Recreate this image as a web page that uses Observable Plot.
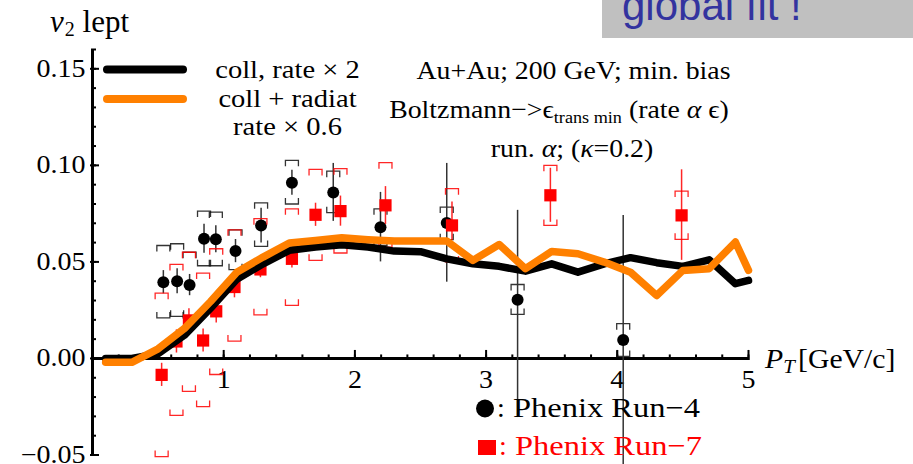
<!DOCTYPE html>
<html><head><meta charset="utf-8">
<script src="https://cdn.jsdelivr.net/npm/d3@7"></script>
<script src="https://cdn.jsdelivr.net/npm/@observablehq/plot@0.6"></script>
<style>
html,body{margin:0;padding:0;background:#fff;}
#chart{position:relative;width:913px;height:464px;overflow:hidden;}
</style></head><body><div id="chart"></div>
<script>
// ---------- data ----------
// PHENIX Run-4 (black circles)
const pt4     = [0.54, 0.645, 0.74, 0.85, 0.94, 1.09, 1.285, 1.52, 1.835, 2.195, 2.70, 3.24, 4.045];
const v4      = [0.0395, 0.040, 0.038, 0.062, 0.0617, 0.0556, 0.0688, 0.091, 0.086, 0.068, 0.0701, 0.0304, 0.0095];
const statHi4 = [0.0455, 0.0465, 0.0435, 0.0695, 0.0687, 0.0616, 0.0778, 0.0975, 0.101, 0.086, 0.101, 0.0767, 0.074];
const statLo4 = [0.0335, 0.0335, 0.0325, 0.0545, 0.0547, 0.0496, 0.0598, 0.0845, 0.071, 0.050, 0.0395, -0.0306, -0.056];
const sysHi4  = [0.0585, 0.0594, 0.055, 0.0763, 0.0758, 0.0666, 0.0806, 0.1026, 0.097, 0.0775, 0.0784, 0.0383, 0.018];
const sysLo4  = [0.021, 0.0218, 0.021, 0.048, 0.048, 0.046, 0.058, 0.080, 0.0755, 0.0585, 0.0615, 0.0228, 0.001];

// PHENIX Run-7 (red squares)
const pt7     = [0.527, 0.64, 0.735, 0.843, 0.943, 1.082, 1.28, 1.52, 1.70, 1.89, 2.233, 2.74, 3.49, 4.49];
const v7      = [-0.0085, 0.0088, 0.0197, 0.0093, 0.0244, 0.037, 0.0461, 0.0516, 0.0744, 0.0763, 0.0793, 0.0689, 0.0845, 0.0741];
const statHi7 = [-0.0025, 0.0148, 0.0257, 0.0153, 0.0304, 0.0426, 0.0504, 0.0563, 0.0804, 0.0841, 0.089, 0.081, 0.0985, 0.0977];
const statLo7 = [-0.0145, 0.0028, 0.0137, 0.0033, 0.0184, 0.0314, 0.0418, 0.0469, 0.0684, 0.0685, 0.0694, 0.061, 0.0705, 0.0508];
const sysHi7  = [0.0338, 0.0487, 0.055, 0.0442, 0.0568, 0.0666, 0.0724, 0.0775, 0.0979, 0.0983, 0.1014, 0.0879, 0.100, 0.0867];
const sysLo7  = [-0.0508, -0.0295, -0.017, -0.0249, -0.0083, 0.009, 0.0226, 0.0275, 0.0508, 0.0546, 0.0577, 0.050, 0.0689, 0.0617];

// model curves
const ptModel  = [0.1, 0.3, 0.5, 0.7, 0.9, 1.1, 1.3, 1.5, 1.7, 1.9, 2.1, 2.3, 2.5, 2.7, 2.9, 3.1, 3.3, 3.5, 3.7, 3.9, 4.1, 4.3, 4.5, 4.7, 4.9, 5.0];
const collRate2 = [0, 0, 0.0025, 0.012, 0.026, 0.041, 0.049, 0.056, 0.0577, 0.0589, 0.0577, 0.0556, 0.0553, 0.0516, 0.049, 0.0477, 0.0452, 0.049, 0.0447, 0.049, 0.0522, 0.0496, 0.0477, 0.0511, 0.0387, 0.0404];
const collRadiat = [-0.002, -0.002, 0.005, 0.0155, 0.0295, 0.0447, 0.0525, 0.0598, 0.0611, 0.0625, 0.0615, 0.0608, 0.0608, 0.0608, 0.0508, 0.059, 0.0465, 0.0554, 0.0542, 0.0499, 0.0447, 0.0326, 0.0456, 0.0465, 0.0603, 0.0456];

// axes ticks / labels
const xTicks = [1, 2, 3, 4, 5];
const xTickLabels = ["1", "2", "3", "4", "5"];
const yTicks = [-0.05, 0, 0.05, 0.10, 0.15];
const yTickLabels = ["\u22120.05", "0.00", "0.05", "0.10", "0.15"];
const xMinor = d3.range(0, 5.001, 0.2);
const yMinor = d3.range(-0.05, 0.1601, 0.01);

// ---------- build ----------
const SERIF = "'Liberation Serif','Times New Roman',Times,serif";
const ORANGE = "#ff8000";
const RED = "#ff0000";

const run4 = pt4.map((x, i) => ({x, v: v4[i], lo: statLo4[i], hi: statHi4[i], slo: sysLo4[i], shi: sysHi4[i]}));
const run7 = pt7.map((x, i) => ({x, v: v7[i], lo: statLo7[i], hi: statHi7[i], slo: sysLo7[i], shi: sysHi7[i]}));
const model = ptModel.map((x, i) => ({x, coll: collRate2[i], rad: collRadiat[i]}));

const BW = 6.5, BH = 6;
const bracketTop = {draw(c) { c.moveTo(-BW, BH); c.lineTo(-BW, 0); c.lineTo(BW, 0); c.lineTo(BW, BH); }};
const bracketBottom = {draw(c) { c.moveTo(-BW, -BH); c.lineTo(-BW, 0); c.lineTo(BW, 0); c.lineTo(BW, -BH); }};

function series(data, color, statColor, symbolMarks) {
  return [
    Plot.dot(data, {x: "x", y: "shi", symbol: bracketTop, fill: "none", stroke: color, strokeWidth: 1.3, strokeOpacity: 0.85}),
    Plot.dot(data, {x: "x", y: "slo", symbol: bracketBottom, fill: "none", stroke: color, strokeWidth: 1.3, strokeOpacity: 0.85}),
    Plot.ruleX(data, {x: "x", y1: "lo", y2: "hi", stroke: statColor, strokeWidth: 1.5}),
    symbolMarks
  ];
}

const chart = Plot.plot({
  width: 913, height: 464,
  marginLeft: 92, marginRight: 165, marginTop: 49, marginBottom: 9.5,
  x: {domain: [0, 5], axis: null},
  y: {domain: [-0.05, 0.16], axis: null},
  style: {fontFamily: SERIF, fontSize: "25px", background: "white", overflow: "visible"},
  marks: [
    // axes
    Plot.ruleY([0], {stroke: "black", strokeWidth: 3}),
    Plot.ruleX([0], {stroke: "black", strokeWidth: 3, insetBottom: -1}),
    Plot.ruleX(xMinor, {x: d => d, y1: () => 0, y2: () => 0, insetTop: -3.5, insetBottom: -2, stroke: "black", strokeWidth: 2}),
    Plot.ruleX(xTicks, {x: d => d, y1: () => 0, y2: () => 0, insetTop: -8, insetBottom: -2, stroke: "black", strokeWidth: 2}),
    Plot.ruleY(yMinor, {y: d => d, x1: () => 0, x2: () => 0, insetLeft: -1, insetRight: -4, stroke: "black", strokeWidth: 2}),
    Plot.ruleY(yTicks, {y: d => d, x1: () => 0, x2: () => 0, insetLeft: -2, insetRight: -7, stroke: "black", strokeWidth: 2}),
    Plot.text(xTicks, {x: d => d, y: () => 0, text: (d, i) => xTickLabels[i], dy: 22, textAnchor: "middle", lineAnchor: "middle", fontSize: 25, fill: "black"}),
    Plot.text(yTicks, {x: () => 0, y: d => d, text: (d, i) => yTickLabels[i], dx: -7, dy: 0, textAnchor: "end", lineAnchor: "middle", fontSize: 25, fill: "black"}),
    // data
    ...series(run4, "#111", "#333",
      Plot.dot(run4, {x: "x", y: "v", r: 6, fill: "black"})),
    ...series(run7, RED, "rgba(255,0,0,0.85)",
      Plot.dot(run7, {x: "x", y: "v", r: 6.9, symbol: "square", fill: RED})),
    // model curves
    Plot.line(model, {x: "x", y: "coll", stroke: "black", strokeWidth: 7.5, strokeLinejoin: "round"}),
    Plot.line(model, {x: "x", y: "rad", stroke: ORANGE, strokeWidth: 7.5, strokeLinejoin: "round"})
  ]
});

document.getElementById("chart").appendChild(chart);
const svg = d3.select(chart);

// horizontal stretch of Plot's tick labels (reference font is wider)
svg.selectAll("text").each(function() {
  const x = parseFloat(this.getAttribute("x")) || 0;
  const t = this.getAttribute("transform") || "";
  this.setAttribute("transform", `${t} translate(${x},0) scale(1.12,1) translate(${-x},0)`);
});

// ---------- annotations ----------
const g = svg.append("g");
function txt({x, y, size, anchor = "start", fill = "#000", k = 1, family = SERIF, parts}) {
  const t = g.append("text")
    .attr("transform", `translate(${x},${y}) scale(${k},1)`)
    .attr("text-anchor", anchor).attr("font-family", family)
    .attr("font-size", size).attr("fill", fill);
  for (const p of parts) {
    const s = t.append("tspan").text(p.t);
    if (p.italic) s.attr("font-style", "italic");
    if (p.size) s.attr("font-size", p.size);
    if (p.dy) s.attr("dy", p.dy);
    if (p.dx) s.attr("dx", p.dx);
  }
  return t;
}

// gray box top-right
g.append("rect").attr("x", 602).attr("y", 0).attr("width", 311).attr("height", 38).attr("fill", "#c0c0c0");
txt({x: 622, y: 20, size: 42, family: "'Liberation Sans',Arial,sans-serif", fill: "#33339f", parts: [{t: "global fit !"}]});

// y label
txt({x: 50, y: 32, size: 31, parts: [{t: "v", italic: true}, {t: "2", size: 20, dy: 4, dx: 1}, {t: " lept", dy: -4}]});
// x label
txt({x: 765, y: 368, size: 27, k: 1.1, parts: [{t: "P", italic: true}, {t: "T", italic: true, size: 19, dy: 5}, {t: "[GeV/c]", dy: -5, dx: 3}]});

// legend of model curves
g.append("line").attr("x1", 107).attr("x2", 183).attr("y1", 69.5).attr("y2", 69.5)
  .attr("stroke", "black").attr("stroke-width", 8).attr("stroke-linecap", "round");
g.append("line").attr("x1", 107).attr("x2", 183).attr("y1", 99).attr("y2", 99)
  .attr("stroke", ORANGE).attr("stroke-width", 8).attr("stroke-linecap", "round");
txt({x: 287.5, y: 77.5, size: 25.5, k: 1.12, anchor: "middle", parts: [{t: "coll, rate \u00d7 2"}]});
txt({x: 287.5, y: 106.5, size: 25.5, k: 1.12, anchor: "middle", parts: [{t: "coll + radiat"}]});
txt({x: 287.5, y: 135, size: 25.5, k: 1.12, anchor: "middle", parts: [{t: "rate \u00d7 0.6"}]});

// physics annotation
txt({x: 573.5, y: 79, size: 26, k: 1.07, anchor: "middle", parts: [{t: "Au+Au; 200 GeV; min. bias"}]});
txt({x: 559, y: 118, size: 26, k: 1.07, anchor: "middle", parts: [
  {t: "Boltzmann\u2212>\u03f5"}, {t: "trans min", size: 17, dy: 5}, {t: " (rate ", dy: -5},
  {t: "\u03b1", italic: true}, {t: " \u03f5)"}]});
txt({x: 572, y: 157, size: 26, k: 1.07, anchor: "middle", parts: [
  {t: "run. "}, {t: "\u03b1", italic: true}, {t: "; ("}, {t: "\u03ba", italic: true}, {t: "=0.2)"}]});

// data legend
g.append("circle").attr("cx", 485).attr("cy", 408.5).attr("r", 9).attr("fill", "black");
txt({x: 497, y: 416.5, size: 28, parts: [{t: ":"}]});
txt({x: 513, y: 416.5, size: 28, k: 1.16, parts: [{t: "Phenix Run\u22124"}]});
g.append("rect").attr("x", 478).attr("y", 440).attr("width", 18).attr("height", 15).attr("fill", RED);
txt({x: 499, y: 455, size: 28, fill: RED, parts: [{t: ":"}]});
txt({x: 515, y: 455, size: 28, k: 1.16, fill: RED, parts: [{t: "Phenix Run\u22127"}]});
</script></body></html>
